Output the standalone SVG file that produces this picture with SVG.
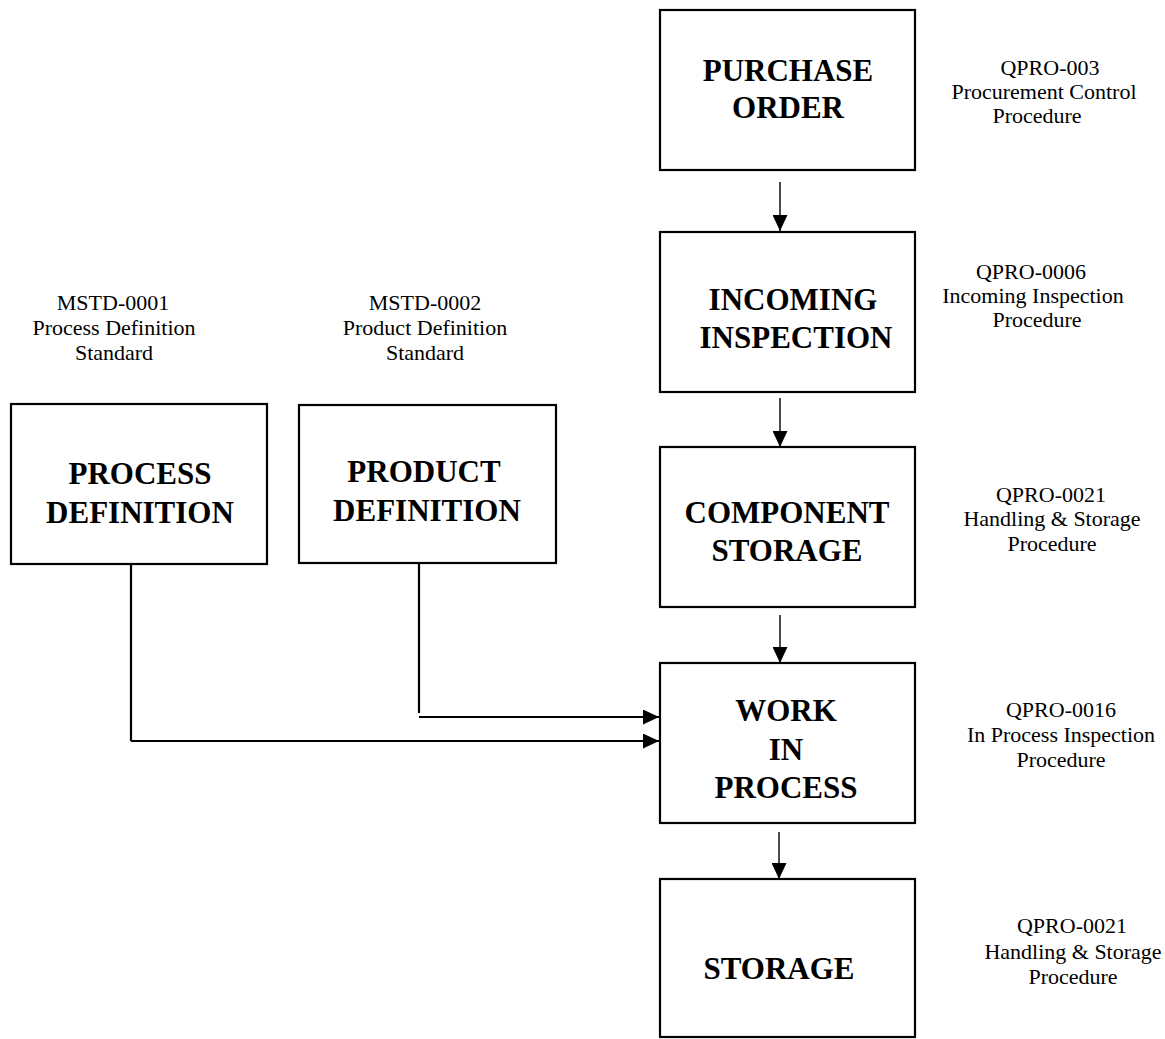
<svg xmlns="http://www.w3.org/2000/svg" width="1165" height="1039" viewBox="0 0 1165 1039">
<defs>
<marker id="ah" markerUnits="userSpaceOnUse" markerWidth="16" markerHeight="15" refX="16" refY="7.5" orient="auto">
<path d="M0,0 L16,7.5 L0,15 Z" fill="#000"/>
</marker>
<style>
.box{fill:#fff;stroke:#000;stroke-width:2.2}
.bt{font-family:"Liberation Serif","Times New Roman",serif;font-weight:bold;font-size:31px;text-anchor:middle;fill:#000}
.lb{font-family:"Liberation Serif","Times New Roman",serif;font-size:22px;text-anchor:middle;fill:#000}
.thin{stroke:#000;stroke-width:1.4;fill:none}
.thick{stroke:#000;stroke-width:2.2;fill:none}
</style>
</defs>
<rect width="1165" height="1039" fill="#fff"/>

<g id="connectors">
<line class="thin" x1="780" y1="182" x2="780" y2="231" marker-end="url(#ah)"/>
<line class="thin" x1="780" y1="398" x2="780" y2="447" marker-end="url(#ah)"/>
<line class="thin" x1="780" y1="615" x2="780" y2="663" marker-end="url(#ah)"/>
<line class="thin" x1="779" y1="832" x2="779" y2="879" marker-end="url(#ah)"/>
<line class="thick" x1="419" y1="564" x2="419" y2="713"/>
<line class="thick" x1="419" y1="717" x2="659" y2="717" marker-end="url(#ah)"/>
<line class="thick" x1="131" y1="565" x2="131" y2="741"/>
<line class="thick" x1="131" y1="741" x2="659" y2="741" marker-end="url(#ah)"/>
</g>

<g id="purchase-order">
<rect class="box" x="660" y="10" width="255" height="160"/>
<text class="bt" x="788" y="81">PURCHASE</text>
<text class="bt" x="788" y="118">ORDER</text>
</g>
<g id="purchase-order-ref">
<text class="lb" x="1050" y="75">QPRO-003</text>
<text class="lb" x="1044" y="99">Procurement Control</text>
<text class="lb" x="1037" y="123">Procedure</text>
</g>

<g id="incoming-inspection">
<rect class="box" x="660" y="232" width="255" height="160"/>
<text class="bt" x="793" y="310">INCOMING</text>
<text class="bt" x="796" y="348">INSPECTION</text>
</g>
<g id="incoming-inspection-ref">
<text class="lb" x="1031" y="279">QPRO-0006</text>
<text class="lb" x="1033" y="303">Incoming Inspection</text>
<text class="lb" x="1037" y="327">Procedure</text>
</g>

<g id="component-storage">
<rect class="box" x="660" y="447" width="255" height="160"/>
<text class="bt" x="787" y="523">COMPONENT</text>
<text class="bt" x="787" y="561">STORAGE</text>
</g>
<g id="component-storage-ref">
<text class="lb" x="1051" y="502">QPRO-0021</text>
<text class="lb" x="1052" y="526">Handling &amp; Storage</text>
<text class="lb" x="1052" y="551">Procedure</text>
</g>

<g id="work-in-process">
<rect class="box" x="660" y="663" width="255" height="160"/>
<text class="bt" x="786" y="721">WORK</text>
<text class="bt" x="786" y="760">IN</text>
<text class="bt" x="786" y="798">PROCESS</text>
</g>
<g id="work-in-process-ref">
<text class="lb" x="1061" y="717">QPRO-0016</text>
<text class="lb" x="1061" y="742">In Process Inspection</text>
<text class="lb" x="1061" y="767">Procedure</text>
</g>

<g id="storage">
<rect class="box" x="660" y="879" width="255" height="158"/>
<text class="bt" x="779" y="979">STORAGE</text>
</g>
<g id="storage-ref">
<text class="lb" x="1072" y="933">QPRO-0021</text>
<text class="lb" x="1073" y="959">Handling &amp; Storage</text>
<text class="lb" x="1073" y="984">Procedure</text>
</g>

<g id="process-definition">
<rect class="box" x="11" y="404" width="256" height="160"/>
<text class="bt" x="140" y="484">PROCESS</text>
<text class="bt" x="140" y="523">DEFINITION</text>
</g>
<g id="process-definition-ref">
<text class="lb" x="113" y="310">MSTD-0001</text>
<text class="lb" x="114" y="335">Process Definition</text>
<text class="lb" x="114" y="360">Standard</text>
</g>

<g id="product-definition">
<rect class="box" x="299" y="405" width="257" height="158"/>
<text class="bt" x="424" y="482">PRODUCT</text>
<text class="bt" x="427" y="521">DEFINITION</text>
</g>
<g id="product-definition-ref">
<text class="lb" x="425" y="310">MSTD-0002</text>
<text class="lb" x="425" y="335">Product Definition</text>
<text class="lb" x="425" y="360">Standard</text>
</g>
</svg>
